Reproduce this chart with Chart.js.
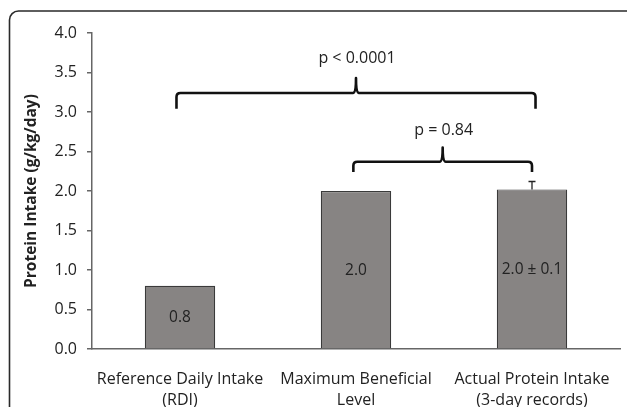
<!DOCTYPE html>
<html>
<head>
<meta charset="utf-8">
<script src="https://cdn.jsdelivr.net/npm/chart.js@4/dist/chart.umd.min.js"></script>
<style>
  html, body { margin: 0; padding: 0; background: #fff; }
  #wrap { width: 627px; height: 407px; position: relative; }
</style>
</head>
<body>
<div id="wrap"><canvas id="c" width="627" height="407"></canvas></div>
<script>
// ---- data ----
const categories = [
  ["Reference Daily Intake", "(RDI)"],
  ["Maximum Beneficial", "Level"],
  ["Actual Protein Intake", "(3-day records)"]
];
const values = [0.8, 2.0, 2.02];
const errors = [0, 0, 0.1];
const barLabels = ["0.8", "2.0", "2.0 \u00b1 0.1"];
const yTicks = [0, 0.5, 1.0, 1.5, 2.0, 2.5, 3.0, 3.5, 4.0];
const yTitle = "Protein Intake (g/kg/day)";

// significance brackets (category position from/to, y values in data units)
const bracketFrom = [-0.02, 0.985];
const bracketTo = [2.02, 2.0];
const bracketLevel = [3.24, 2.37];
const bracketLegEnd = [3.04, 2.24];
const bracketTip = [3.43, 2.55];
const bracketTextY = [3.68, 2.77];
const bracketText = ["p < 0.0001", "p = 0.84"];

const FONT = "'Open Sans', sans-serif";

const framePlugin = {
  id: 'frame',
  beforeDraw(chart) {
    const ctx = chart.ctx;
    ctx.save();
    ctx.strokeStyle = '#2a2a2a';
    ctx.lineWidth = 1.6;
    ctx.beginPath();
    ctx.roundRect(9.5, 11, 640, 430, 9);
    ctx.stroke();
    ctx.restore();
  }
};

const annotPlugin = {
  id: 'annot',
  afterDatasetsDraw(chart) {
    const ctx = chart.ctx;
    const xs = chart.scales.x, ys = chart.scales.y;
    const meta = chart.getDatasetMeta(0);
    ctx.save();
    // value labels inside bars
    ctx.fillStyle = '#222';
    ctx.font = '15.5px ' + FONT;
    ctx.textAlign = 'center';
    ctx.textBaseline = 'middle';
    meta.data.forEach((bar, i) => {
      const yMid = (bar.y + bar.base) / 2;
      ctx.fillText(barLabels[i], bar.x, yMid + 1);
    });
    // error bars
    ctx.strokeStyle = '#222';
    ctx.lineWidth = 1.3;
    meta.data.forEach((bar, i) => {
      if (!errors[i]) return;
      const yTop = ys.getPixelForValue(values[i] + errors[i]);
      ctx.beginPath();
      ctx.moveTo(bar.x, bar.y);
      ctx.lineTo(bar.x, yTop);
      ctx.moveTo(bar.x - 3.5, yTop);
      ctx.lineTo(bar.x + 3.5, yTop);
      ctx.stroke();
    });
    // brackets
    ctx.strokeStyle = '#111';
    ctx.lineWidth = 2.6;
    ctx.lineJoin = 'round';
    ctx.lineCap = 'butt';
    const catW = xs.getPixelForValue(1) - xs.getPixelForValue(0);
    for (let i = 0; i < bracketText.length; i++) {
      const x0 = xs.getPixelForValue(0) + bracketFrom[i] * catW;
      const x1 = xs.getPixelForValue(0) + bracketTo[i] * catW;
      const cx = (x0 + x1) / 2;
      const y = ys.getPixelForValue(bracketLevel[i]);
      const yl = ys.getPixelForValue(bracketLegEnd[i]);
      const yt = ys.getPixelForValue(bracketTip[i]);
      const r = 4;
      ctx.beginPath();
      ctx.moveTo(x0, yl);
      ctx.lineTo(x0, y + r);
      ctx.quadraticCurveTo(x0, y, x0 + r, y);
      ctx.lineTo(cx - 3, y);
      ctx.quadraticCurveTo(cx, y, cx, yt);
      ctx.quadraticCurveTo(cx, y, cx + 3, y);
      ctx.lineTo(x1 - r, y);
      ctx.quadraticCurveTo(x1, y, x1, y + r);
      ctx.lineTo(x1, yl);
      ctx.stroke();
      ctx.fillStyle = '#222';
      ctx.font = '16px ' + FONT;
      ctx.fillText(bracketText[i], cx + 1, ys.getPixelForValue(bracketTextY[i]));
    }
    ctx.restore();
  }
};

new Chart(document.getElementById('c'), {
  type: 'bar',
  data: {
    labels: categories,
    datasets: [{
      data: values,
      backgroundColor: '#878483',
      borderColor: '#3a3a3a',
      borderWidth: 1.2,
      categoryPercentage: 1.0,
      barPercentage: 0.4
    }]
  },
  options: {
    responsive: false,
    animation: false,
    devicePixelRatio: 1,
    layout: { padding: { left: 22, top: 33, right: 7, bottom: 0 } },
    plugins: { legend: { display: false }, tooltip: { enabled: false } },
    scales: {
      x: {
        grid: { display: false, drawTicks: false },
        border: { display: true, color: '#666', width: 1.5 },
        ticks: { color: '#222', font: { family: FONT, size: 16, lineHeight: 1.3 }, padding: 20, maxRotation: 0, autoSkip: false },
        afterFit(scale) { scale.height = 58; scale.paddingLeft = 0; scale.paddingRight = 0; }
      },
      y: {
        min: 0, max: 4,
        afterBuildTicks(scale) { scale.ticks = yTicks.map(v => ({ value: v })); },
        grid: { display: true, drawOnChartArea: false, drawTicks: true, tickLength: 5, color: '#666', lineWidth: 1.5 },
        border: { display: true, color: '#666', width: 1.5 },
        ticks: { color: '#222', font: { family: FONT, size: 16 }, padding: 10, callback: v => Number(v).toFixed(1) },
        title: { display: true, text: yTitle, color: '#222', font: { family: FONT, size: 15.5, weight: 'bold' }, padding: { top: 0, bottom: 4 } },
        afterFit(scale) { scale.width = 70; scale.paddingTop = 0; scale.paddingBottom = 0; }
      }
    }
  },
  plugins: [framePlugin, annotPlugin]
});
</script>
</body>
</html>
